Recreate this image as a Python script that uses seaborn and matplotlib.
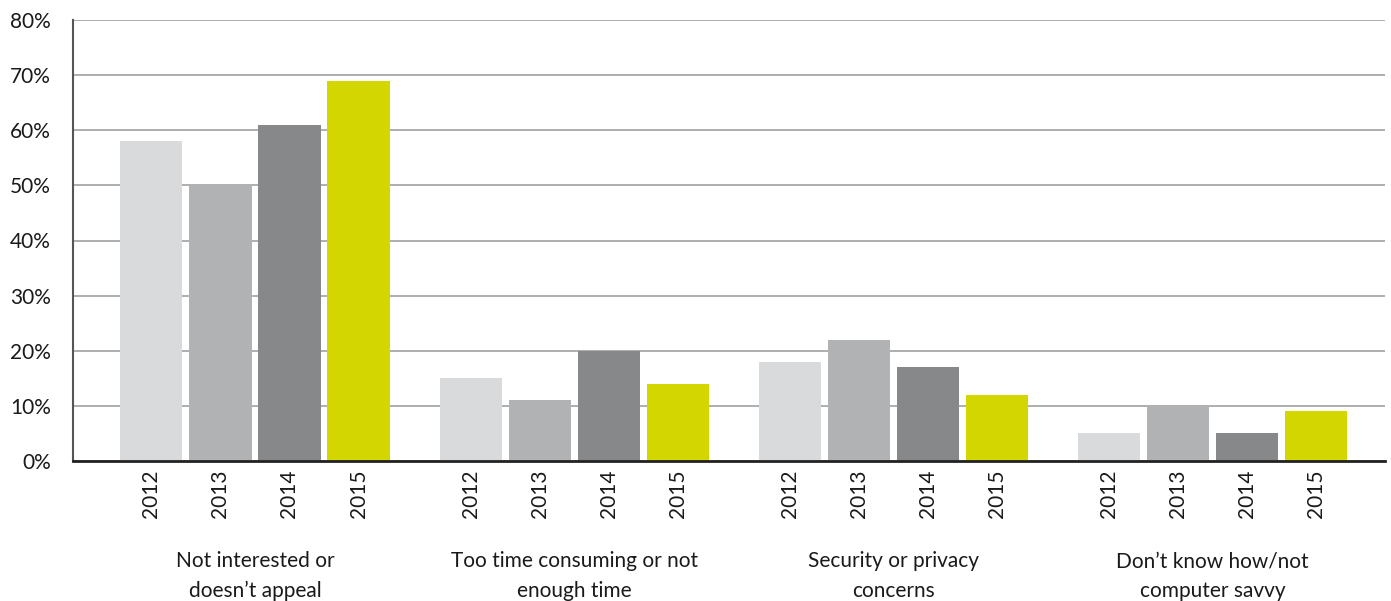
import pandas as pd
import matplotlib.pyplot as plt
import seaborn as sns
from matplotlib.ticker import FuncFormatter

# chart data
categories = ['Not interested or\ndoesn\u2019t appeal', 'Too time consuming or not\nenough time',
              'Security or privacy\nconcerns', 'Don\u2019t know how/not\ncomputer savvy']
years = ['2012', '2013', '2014', '2015']
values = {
    '2012': [58, 15, 18, 5],
    '2013': [50, 11, 22, 10],
    '2014': [61, 20, 17, 5],
    '2015': [69, 14, 12, 9],
}
colours = ['#d9dadb', '#b1b2b3', '#87888a', '#d4d600']

rows = []
for y in years:
    for c, v in zip(categories, values[y]):
        rows.append({'Category': c, 'Year': y, 'Value': v})
df = pd.DataFrame(rows)

sns.set_style('white')
plt.rcParams['font.family'] = ['Lato', 'DejaVu Sans']

fig = plt.figure(figsize=(13.91, 6.01), dpi=100)
ax = fig.add_axes([73 / 1391, 140 / 601, 1312 / 1391, 441 / 601])

sns.barplot(data=df, x='Category', y='Value', hue='Year', order=categories,
            hue_order=years, palette=colours, width=0.865, gap=0.1,
            saturation=1, legend=False, linewidth=0, ax=ax)

ax.set_ylim(0, 80)
ax.set_xlim(-0.57, 3.54)
ax.set_yticks(range(0, 81, 10))
ax.yaxis.set_major_formatter(FuncFormatter(lambda v, p: f'{int(v)}%'))
ax.yaxis.grid(True, color='#a8a8a8', linewidth=1.3)
ax.set_axisbelow(True)
ax.set_xlabel('')
ax.set_ylabel('')

# year labels under each bar, as minor ticks at the bar centres
centres, labels = [], []
for i, y in enumerate(years):
    for container_bar in ax.containers[i]:
        centres.append(container_bar.get_x() + container_bar.get_width() / 2)
        labels.append(y)
ax.set_xticks(centres, minor=True)
ax.set_xticklabels(labels, minor=True, rotation=90, fontsize=15, color='#1a1a1a')
ax.tick_params(axis='x', which='minor', length=0, pad=6)
ax.tick_params(axis='x', which='major', length=0, pad=65, labelsize=15, labelcolor='#1a1a1a')
ax.tick_params(axis='y', length=0, pad=16, labelsize=15, labelcolor='#1a1a1a')
for lab in ax.get_xticklabels():
    lab.set_linespacing(1.6)

for s in ['top', 'right']:
    ax.spines[s].set_visible(False)
ax.spines['left'].set_color('#555555')
ax.spines['left'].set_linewidth(1.5)
ax.spines['bottom'].set_color('#222222')
ax.spines['bottom'].set_linewidth(2)

fig.savefig('out.png', dpi=100)
